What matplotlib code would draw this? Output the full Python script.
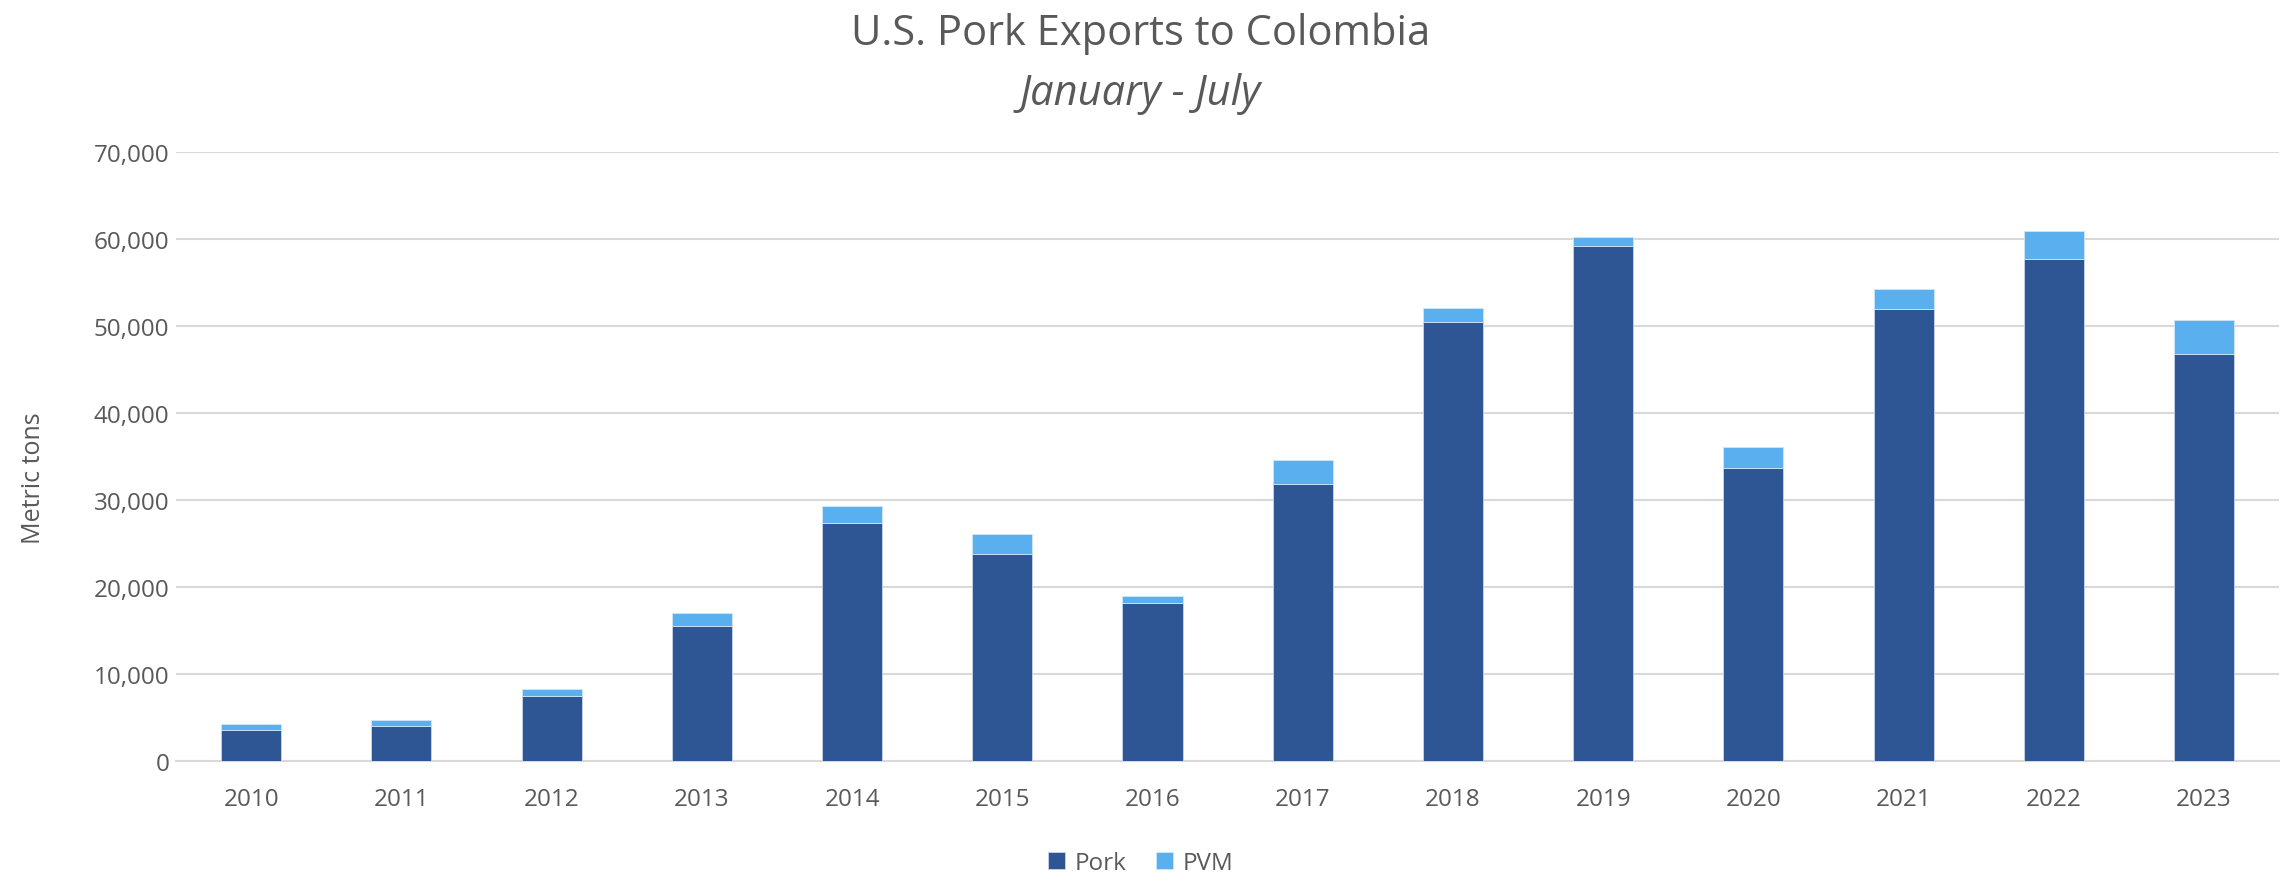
import numpy as np
import matplotlib
matplotlib.use("Agg")
import matplotlib.pyplot as plt
from matplotlib.ticker import FuncFormatter

# ---------------------------
# Data
# ---------------------------
years = ["2010", "2011", "2012", "2013", "2014", "2015", "2016",
         "2017", "2018", "2019", "2020", "2021", "2022", "2023"]
pork = [3550, 3960, 7420, 15460, 27290, 23800, 18160,
        31870, 50460, 59190, 33610, 51960, 57640, 46780]
pvm = [670, 730, 850, 1540, 1960, 2270, 770,
       2750, 1570, 1040, 2420, 2260, 3240, 3870]

pork_color = "#2E5594"
pvm_color = "#5AB0EE"
text_color = "#595959"

plt.rcParams['font.family'] = ['Open Sans', 'DejaVu Sans']

# ---------------------------
# Figure
# ---------------------------
fig = plt.figure(figsize=(22.81, 8.79), dpi=100)
ax = fig.add_axes([0.0772, 0.1335, 0.9220, 0.6925])

x = np.arange(len(years))
ax.bar(x, pork, width=0.4, color=pork_color, label="Pork", zorder=3,
       edgecolor="#C9D6EA", linewidth=0.6)
ax.bar(x, pvm, width=0.4, bottom=pork, color=pvm_color, label="PVM", zorder=3,
       edgecolor="#CFE6F8", linewidth=0.6)

ax.set_xlim(-0.5, len(years) - 0.5)
ax.set_ylim(0, 70000)
ax.set_yticks(np.arange(0, 70001, 10000))
ax.yaxis.set_major_formatter(FuncFormatter(lambda v, p: f"{int(v):,}"))
ax.set_xticks(x)
ax.set_xticklabels(years)

ax.grid(axis="y", color="#D9D9D9", linewidth=1.5, zorder=0)
for s in ["top", "right", "left"]:
    ax.spines[s].set_visible(False)
ax.spines["bottom"].set_color("#D9D9D9")
ax.spines["bottom"].set_linewidth(1.5)
ax.tick_params(axis="both", length=0, labelsize=17.5, colors=text_color)
ax.tick_params(axis="x", pad=19)
ax.tick_params(axis="y", pad=5)

ax.set_ylabel("Metric tons", fontsize=18, color=text_color)
ax.yaxis.set_label_coords(-0.062, 0.465)

# Titles
fig.text(0.5, 0.962, "U.S. Pork Exports to Colombia", ha="center", va="center",
         fontsize=30, color=text_color)
fig.text(0.5, 0.893, "January - July", ha="center", va="center",
         fontsize=30, color=text_color, style="italic")

leg = fig.legend(loc="center", bbox_to_anchor=(0.5, 0.017), ncol=2,
                 frameon=False, fontsize=17.5, handlelength=0.7, handleheight=0.7,
                 columnspacing=1.2, handletextpad=0.4)
for t in leg.get_texts():
    t.set_color(text_color)

fig.savefig("out.png", dpi=100, facecolor="white")
